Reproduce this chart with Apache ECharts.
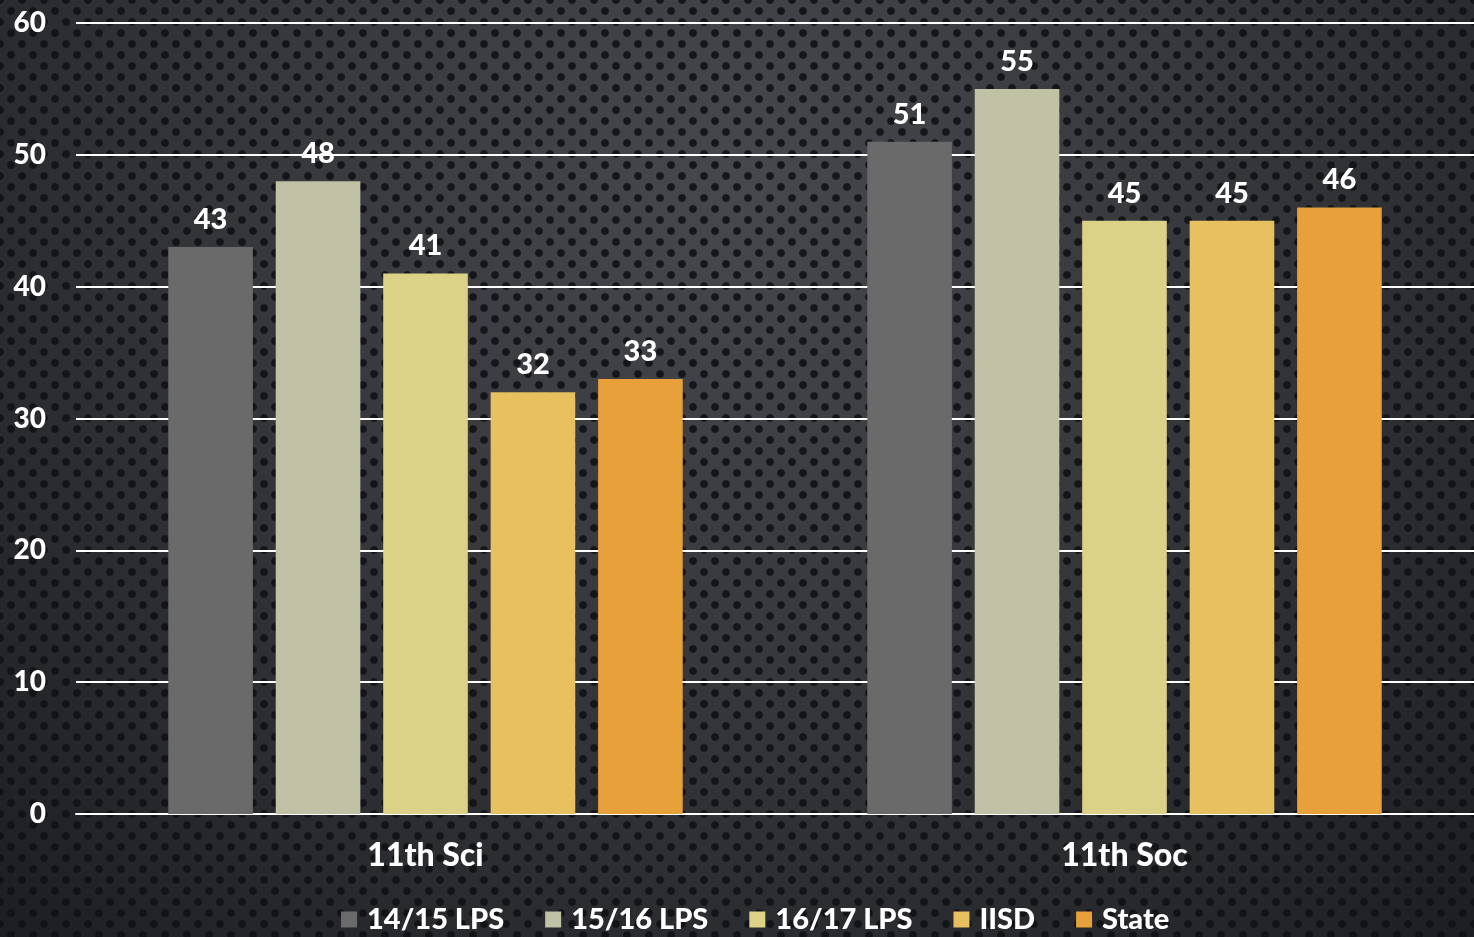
<!DOCTYPE html>
<html>
<head>
<meta charset="utf-8">
<script src="https://cdn.jsdelivr.net/npm/echarts@6/dist/echarts.min.js"></script>
<style>
html,body{margin:0;padding:0;width:1474px;height:937px;overflow:hidden;}
#bg{position:absolute;left:0;top:0;width:1474px;height:937px;
background-color:#2c2e32;
background-image:
 radial-gradient(circle, rgba(16,17,21,0.9) 3.2px, rgba(16,17,21,0) 4.6px),
 radial-gradient(circle, rgba(16,17,21,0.9) 3.2px, rgba(16,17,21,0) 4.6px),
 radial-gradient(ellipse at 50% 20%, #46484d 0%, #36383c 45%, #1d1e21 100%);
background-size:22px 22px, 22px 22px, 100% 100%;
background-position:0 0, 11px 11px, 0 0;}
#chart{position:absolute;left:0;top:0;width:1474px;height:937px;}
</style>
</head>
<body>
<div id="bg"></div>
<div id="chart"></div>
<script>
var categories = ['11th Sci', '11th Soc'];
var seriesNames = ['14/15 LPS', '15/16 LPS', '16/17 LPS', 'IISD', 'State'];
var lps1415 = [43, 51];
var lps1516 = [48, 55];
var lps1617 = [41, 45];
var iisd = [32, 45];
var state = [33, 46];
var yTicks = [0, 10, 20, 30, 40, 50, 60];

var colors = ['#6a6a6a', '#c0c1a5', '#dbd288', '#e7c060', '#e8a03b'];
var values = [lps1415, lps1516, lps1617, iisd, state];
var font = '"Lato", "DejaVu Sans", sans-serif';

var chart = echarts.init(document.getElementById('chart'));
chart.setOption({
  backgroundColor: 'transparent',
  animation: false,
  color: colors,
  grid: {left: 76, right: 0, top: 23, bottom: 123, containLabel: false},
  legend: {
    bottom: -2, left: 336,
    itemWidth: 16, itemHeight: 16, itemGap: 41,
    icon: 'rect',
    textStyle: {color: '#ffffff', fontSize: 29, fontWeight: 900, fontFamily: font, padding: [0, 0, 0, 5]},
    data: seriesNames
  },
  xAxis: {
    type: 'category', data: categories,
    axisLine: {show: true, lineStyle: {color: '#ffffff', width: 2}},
    axisTick: {show: false},
    axisLabel: {color: '#ffffff', fontSize: 32, fontWeight: 900, fontFamily: font, margin: 26}
  },
  yAxis: {
    type: 'value', min: yTicks[0], max: yTicks[yTicks.length - 1], interval: 10,
    axisLine: {show: false}, axisTick: {show: false},
    splitLine: {lineStyle: {color: '#ffffff', width: 2}},
    axisLabel: {color: '#ffffff', fontSize: 28, fontWeight: 900, fontFamily: font, margin: 30}
  },
  series: seriesNames.map(function (n, i) {
    return {
      name: n, type: 'bar', data: values[i],
      barGap: '27%', barCategoryGap: '26.4%',
      itemStyle: {color: colors[i]},
      label: {show: true, position: 'top', distance: 13, color: '#ffffff', fontSize: 29, fontWeight: 900, fontFamily: font}
    };
  })
});
</script>
</body>
</html>
